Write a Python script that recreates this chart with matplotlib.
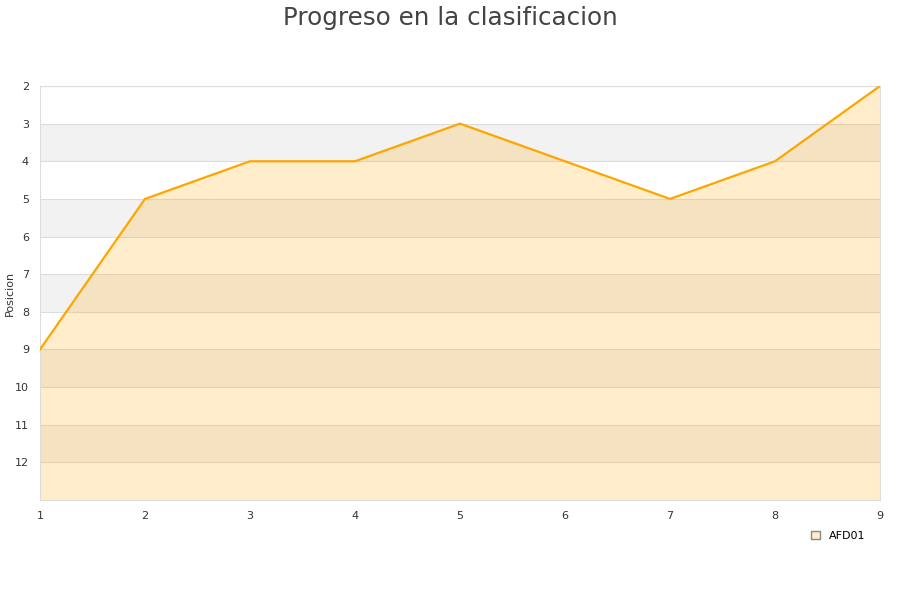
import matplotlib
matplotlib.use("Agg")
import matplotlib.pyplot as plt
from matplotlib.patches import Patch

jornadas = [1, 2, 3, 4, 5, 6, 7, 8, 9]
posicion = [9, 5, 4, 4, 3, 4, 5, 4, 2]
equipo = "AFD01"
y_ticks = list(range(2, 13))

fig = plt.figure(figsize=(9, 6), dpi=100)
ax = fig.add_axes([40/900, 100/600, 840/900, 414/600])

# alternating bands
for y in range(3, 13, 2):
    ax.axhspan(y, y + 1, color="#f2f2f2", zorder=0, lw=0)
for y in y_ticks:
    ax.axhline(y, color="#dddddd", lw=0.8, zorder=1)

ax.fill_between(jornadas, posicion, 13, color="orange", alpha=0.2, lw=0, zorder=2)
ax.plot(jornadas, posicion, color="orange", lw=1.6, zorder=3)

ax.set_xlim(1, 9)
ax.set_ylim(13, 2)
ax.set_xticks(jornadas)
ax.set_yticks(y_ticks)
ax.tick_params(length=0, labelsize=8, colors="#333333", pad=8)
for s in ax.spines.values():
    s.set_color("#dddddd")
ax.set_ylabel("Posicion", fontsize=8, color="#333333")
ax.yaxis.set_label_coords(-25/840, 0.5)

fig.suptitle("Progreso en la clasificacion", fontsize=17.7, color="#444444", y=0.99)

leg = fig.legend(handles=[Patch(facecolor="#ffeccc", edgecolor="#888888", label=equipo)],
                 loc="center left", bbox_to_anchor=(801/900, 1 - 536/600), frameon=False,
                 fontsize=8, handlelength=0.8, handleheight=0.8, handletextpad=0.8)

fig.savefig("out.png", dpi=100)
